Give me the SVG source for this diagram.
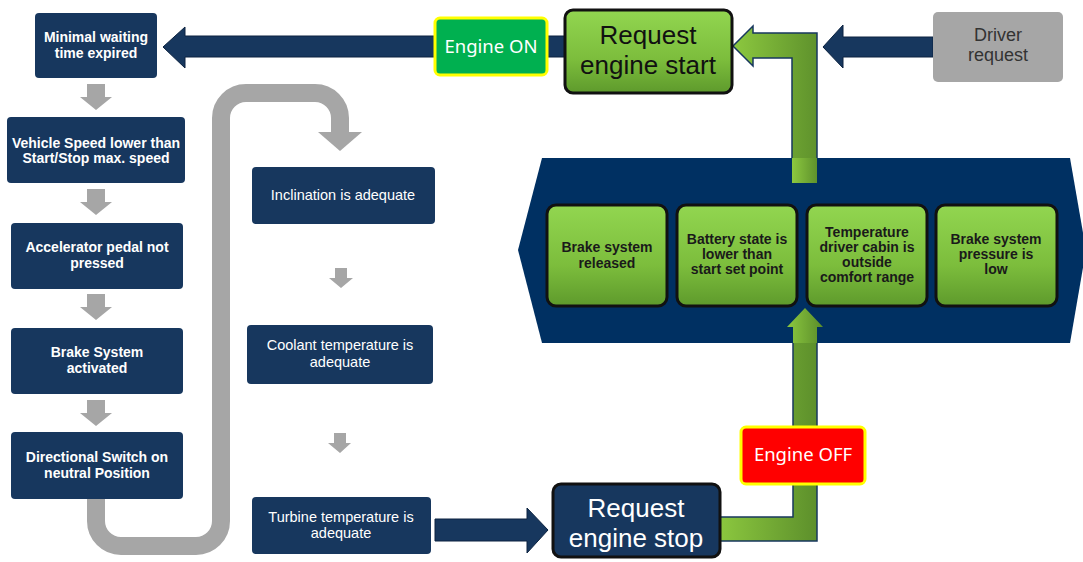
<svg xmlns="http://www.w3.org/2000/svg" width="1083" height="562" viewBox="0 0 1083 562">
<defs>
<linearGradient id="gBox" x1="0" y1="0" x2="0" y2="1">
<stop offset="0" stop-color="#92d650"/>
<stop offset="0.6" stop-color="#7cbd3c"/>
<stop offset="1" stop-color="#5e9a2c"/>
</linearGradient>
<linearGradient id="gArrowH" x1="0" y1="0" x2="1" y2="0">
<stop offset="0" stop-color="#8cc83f"/>
<stop offset="1" stop-color="#5a8c2a"/>
</linearGradient>
<linearGradient id="gArrowV" x1="0" y1="0" x2="1" y2="0">
<stop offset="0" stop-color="#8cc83f"/>
<stop offset="1" stop-color="#5f922c"/>
</linearGradient>
<style>
.nbox{fill:#17375e;}
.lt{font-family:"Liberation Sans",Arial,sans-serif;font-size:14px;font-weight:bold;fill:#ffffff;text-anchor:middle;}
.mt{font-family:"Liberation Sans",Arial,sans-serif;font-size:14.5px;fill:#ffffff;text-anchor:middle;}
.gt{font-family:"Liberation Sans",Arial,sans-serif;font-size:14px;font-weight:bold;fill:#1a1a1a;text-anchor:middle;}
.big{font-family:"Liberation Sans",Arial,sans-serif;font-size:26px;text-anchor:middle;}
.lab{font-family:"Noto Sans","Open Sans",sans-serif;font-size:18.5px;fill:#ffffff;text-anchor:middle;}
.gray{fill:#a6a6a6;}
.gbox{fill:url(#gBox);stroke:#111;stroke-width:3;}
.narrow{fill:#17375e;stroke:#0c2340;stroke-width:1;}
</style>
</defs>

<g id="connectors">
<polygon class="narrow" points="566,36 185,36 185,27 163,47 185,68 185,57 566,57"/>
<polygon class="narrow" points="933,37 843,37 843,25 823,47 843,68 843,57 933,57"/>
<polygon class="narrow" points="435,519 527,519 527,508 548,530 527,553 527,541 435,541"/>
<polygon class="gray" points="87,84 105,84 105,97 112,97 96,110 80,97 87,97"/>
<polygon class="gray" points="87,189 105,189 105,202 112,202 96,215 80,202 87,202"/>
<polygon class="gray" points="87,294 105,294 105,307 112,307 96,320 80,307 87,307"/>
<polygon class="gray" points="87,400 105,400 105,413 112,413 96,426 80,413 87,413"/>
<polygon class="gray" points="335,268 347,268 347,278 353,278 341,288 329,278 335,278"/>
<polygon class="gray" points="334,433 346,433 346,443 351,443 340,453 328,443 334,443"/>
<path d="M96,499 V521 A25,25 0 0 0 121,546 H196 A25,25 0 0 0 221,521 V118 A25,25 0 0 1 246,93 H315 A25,25 0 0 1 340,118 V133" fill="none" stroke="#a6a6a6" stroke-width="18"/>
<polygon class="gray" points="318,132 362,132 340,151"/>
<polygon points="817,183 817,33 753,33 753,26 733,46 753,66 753,58 792,58 792,183" fill="url(#gArrowV)" stroke="#17375e" stroke-width="1.5"/>
<polygon points="718,517 793,517 793,327 787,327 805,308 823,327 817,327 817,541 718,541" fill="url(#gArrowH)" stroke="#17375e" stroke-width="1.5"/>
</g>

<g id="hexagon">
<polygon points="542,158 1070,158 1086,250 1070,343 542,343 518,250" fill="#003062"/>
</g>
<g id="conn-overlay">
<rect x="792" y="158" width="25" height="25" fill="url(#gArrowV)"/>
<polygon points="793,343 793,327 787,327 805,308 823,327 817,327 817,343" fill="url(#gArrowH)"/>
</g>

<g id="n-minimal"><rect class="nbox" x="35" y="13" width="122" height="65" rx="4"/><text class="lt" x="96" y="42">Minimal waiting</text><text class="lt" x="96" y="58">time expired</text></g>
<g id="n-vehicle"><rect class="nbox" x="7" y="117" width="178" height="66" rx="4"/><text class="lt" x="96" y="148">Vehicle Speed lower than</text><text class="lt" x="96" y="163">Start/Stop max. speed</text></g>
<g id="n-accel"><rect class="nbox" x="11" y="223" width="172" height="66" rx="4"/><text class="lt" x="97" y="252">Accelerator pedal not</text><text class="lt" x="97" y="268">pressed</text></g>
<g id="n-brake"><rect class="nbox" x="11" y="328" width="172" height="66" rx="4"/><text class="lt" x="97" y="357">Brake System</text><text class="lt" x="97" y="373">activated</text></g>
<g id="n-direct"><rect class="nbox" x="11" y="432" width="172" height="67" rx="4"/><text class="lt" x="97" y="462">Directional Switch on</text><text class="lt" x="97" y="478">neutral Position</text></g>

<g id="n-incl"><rect class="nbox" x="252" y="167" width="183" height="57" rx="4"/><text class="mt" x="343" y="200">Inclination is adequate</text></g>
<g id="n-coolant"><rect class="nbox" x="247" y="325" width="186" height="59" rx="4"/><text class="mt" x="340" y="350">Coolant temperature is</text><text class="mt" x="340" y="367">adequate</text></g>
<g id="n-turbine"><rect class="nbox" x="252" y="497" width="179" height="57" rx="4"/><text class="mt" x="341" y="522">Turbine temperature is</text><text class="mt" x="341" y="538">adequate</text></g>

<g id="n-start"><rect x="565" y="10" width="167" height="83" rx="8" fill="url(#gBox)" stroke="#111" stroke-width="3"/><text class="big" x="648" y="44" fill="#111">Request</text><text class="big" x="648" y="74" fill="#111">engine start</text></g>
<g id="n-engon"><rect x="435" y="18" width="112" height="57" rx="5" fill="#00b050" stroke="#ffff00" stroke-width="3"/><text class="lab" x="491" y="53">Engine ON</text></g>
<g id="n-driver"><rect x="933" y="12" width="130" height="70" rx="5" fill="#a6a6a6"/><text x="998" y="41" font-family="Liberation Sans,Arial,sans-serif" font-size="18" fill="#333" text-anchor="middle">Driver</text><text x="998" y="61" font-family="Liberation Sans,Arial,sans-serif" font-size="18" fill="#333" text-anchor="middle">request</text></g>

<g id="n-stop"><rect x="553" y="484" width="167" height="73" rx="8" fill="#17375e" stroke="#111" stroke-width="3"/><text class="big" x="636" y="517" fill="#ffffff">Request</text><text class="big" x="636" y="547" fill="#ffffff">engine stop</text></g>
<g id="n-engoff"><rect x="741" y="427" width="124" height="57" rx="5" fill="#ff0000" stroke="#ffff00" stroke-width="3"/><text class="lab" x="803" y="461">Engine OFF</text></g>

<g id="n-brakerel"><rect class="gbox" x="547" y="205" width="120" height="101" rx="9"/><text class="gt" x="607" y="252">Brake system</text><text class="gt" x="607" y="268">released</text></g>
<g id="n-battery"><rect class="gbox" x="677" y="205" width="120" height="101" rx="9"/><text class="gt" x="737" y="244">Battery state is</text><text class="gt" x="737" y="259">lower than</text><text class="gt" x="737" y="274">start set point</text></g>
<g id="n-temp"><rect class="gbox" x="807" y="205" width="120" height="101" rx="9"/><text class="gt" x="867" y="237">Temperature</text><text class="gt" x="867" y="252">driver cabin is</text><text class="gt" x="867" y="267">outside</text><text class="gt" x="867" y="282">comfort range</text></g>
<g id="n-pressure"><rect class="gbox" x="936" y="205" width="121" height="101" rx="9"/><text class="gt" x="996" y="244">Brake system</text><text class="gt" x="996" y="259">pressure is</text><text class="gt" x="996" y="274">low</text></g>
</svg>
